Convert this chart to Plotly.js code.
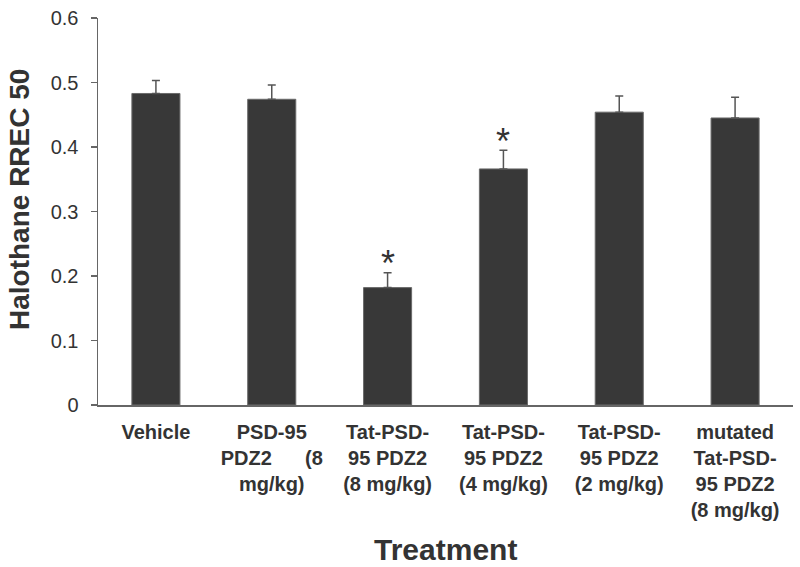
<!DOCTYPE html>
<html>
<head>
<meta charset="utf-8">
<script src="https://cdn.plot.ly/plotly-3.0.1.min.js"></script>
<style>html,body{margin:0;padding:0;background:#fff;}</style>
</head>
<body>
<div id="chart" style="width:800px;height:567px;"></div>
<script>
const categories = [
  "Vehicle",
  "PSD-95<br>PDZ2\u00A0\u00A0\u00A0\u00A0\u00A0\u00A0(8<br>mg/kg)",
  "Tat-PSD-<br>95 PDZ2<br>(8 mg/kg)",
  "Tat-PSD-<br>95 PDZ2<br>(4 mg/kg)",
  "Tat-PSD-<br>95 PDZ2<br>(2 mg/kg)",
  "mutated<br>Tat-PSD-<br>95 PDZ2<br>(8 mg/kg)"
];
const means = [0.483, 0.474, 0.182, 0.366, 0.454, 0.445];
const errors = [0.020, 0.022, 0.023, 0.029, 0.025, 0.032];
const significant = [false, false, true, true, false, false];
const yTicks = [0, 0.1, 0.2, 0.3, 0.4, 0.5, 0.6];
const yTickText = ["0", "0.1", "0.2", "0.3", "0.4", "0.5", "0.6"];

const xIdx = categories.map((_, i) => i);

const trace = {
  type: 'bar',
  x: xIdx,
  y: means,
  width: 0.415,
  marker: {color: '#383838', line: {color: '#6a6a6a', width: 1}},
  error_y: {type: 'data', array: errors, symmetric: false, arrayminus: errors.map(() => 0),
            color: '#555555', thickness: 1.5, width: 4},
  hoverinfo: 'none'
};

const annotations = [];
significant.forEach((s, i) => {
  if (s) annotations.push({
    x: i, y: means[i] + errors[i], xref: 'x', yref: 'y',
    text: '*', showarrow: false, xanchor: 'center', yanchor: 'middle', yshift: 9,
    font: {family: 'Arial, Liberation Sans, sans-serif', size: 36, color: '#333'}
  });
});
annotations.push({
  xref: 'paper', yref: 'paper', x: (19 - 98) / 695, y: (405 - 200) / 387,
  text: '<b>Halothane RREC 50</b>', textangle: -90, showarrow: false,
  xanchor: 'center', yanchor: 'middle',
  font: {family: 'Arial, Liberation Sans, sans-serif', size: 28, color: '#333'}
});
annotations.push({
  xref: 'paper', yref: 'paper', x: 0.5, y: -(549 - 405) / 387,
  text: '<b>Treatment</b>', showarrow: false, xanchor: 'center', yanchor: 'middle',
  font: {family: 'Arial, Liberation Sans, sans-serif', size: 30, color: '#333'}
});

const layout = {
  width: 800, height: 567,
  margin: {l: 98, r: 7, t: 18, b: 162, pad: 0},
  paper_bgcolor: '#ffffff', plot_bgcolor: '#ffffff',
  showlegend: false,
  xaxis: {
    range: [-0.5, 5.5], tickmode: 'array', tickvals: xIdx, ticktext: categories,
    showline: true, linecolor: '#666', linewidth: 1.5, ticks: '', showgrid: false, zeroline: false,
    tickfont: {family: 'Arial, Liberation Sans, sans-serif', size: 20, color: '#333', weight: 'bold'},
    ticklabelstandoff: 8, tickangle: 0, fixedrange: true
  },
  yaxis: {
    range: [0, 0.6], tickmode: 'array', tickvals: yTicks, ticktext: yTickText,
    showline: true, linecolor: '#666', linewidth: 1.5, ticks: 'outside', ticklen: 6, tickwidth: 1.5, tickcolor: '#666',
    showgrid: false, zeroline: false,
    tickfont: {family: 'Arial, Liberation Sans, sans-serif', size: 20, color: '#333'},
    ticklabelstandoff: 8, fixedrange: true
  },
  annotations: annotations
};

Plotly.newPlot('chart', [trace], layout, {staticPlot: true, displayModeBar: false});
</script>
</body>
</html>
